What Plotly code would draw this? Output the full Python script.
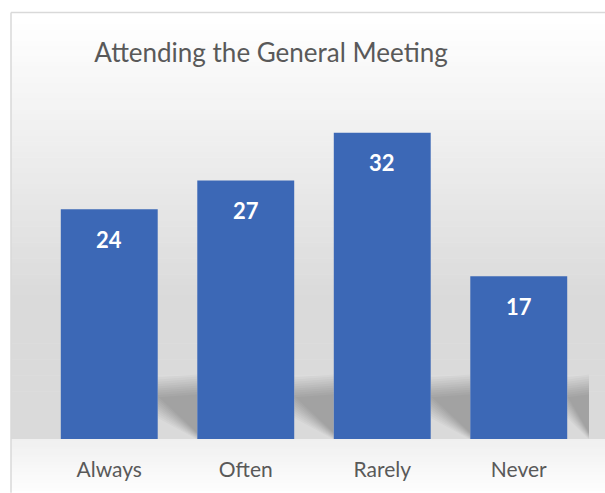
import plotly.graph_objects as go

categories = ["Always", "Often", "Rarely", "Never"]
values = [24, 27, 32, 17]
title_text = "Attending the General Meeting"

W, H = 605, 493
L, R, T, B = 41, 587, 104, 441
YMAX = 35
BAR_W = 0.71


def px(x):
    return (x - L) / (R - L)


def py(y):
    return (B - y) / (B - T)


def lerp_col(c1, c2, t):
    t = max(0.0, min(1.0, t))
    return "rgb(%d,%d,%d)" % tuple(round(a + (b - a) * t) for a, b in zip(c1, c2))


shapes = []
# wall gradient
top_y, bot_y = 13, B
n = 80
for k in range(n):
    y0 = top_y + (bot_y - top_y) * k / n
    y1 = top_y + (bot_y - top_y) * (k + 1) / n + 0.6
    t = ((y0 + y1) / 2 - 20) / (300 - 20)
    shapes.append(dict(type="rect", xref="paper", yref="paper", layer="below",
                       x0=px(11), x1=px(606), y0=py(y1), y1=py(y0),
                       fillcolor=lerp_col((255, 255, 255), (218, 218, 218), t),
                       line=dict(width=0)))
# floor gradient
n2 = 20
for k in range(n2):
    y0 = B + (H - B) * k / n2
    y1 = B + (H - B) * (k + 1) / n2 + 0.6
    t = k / (n2 - 1)
    shapes.append(dict(type="rect", xref="paper", yref="paper", layer="below",
                       x0=px(11), x1=px(606), y0=py(y1), y1=py(y0),
                       fillcolor=lerp_col((240, 240, 240), (253, 253, 253), t),
                       line=dict(width=0)))

# soft shadows in the gaps between bars
step = (R - L) / len(categories)
half = BAR_W * step / 2
nl = 10
for i in range(len(categories)):
    c = L + (i + 0.5) * step
    x0 = c + half
    x1 = (L + (i + 1.5) * step - half) if i < len(categories) - 1 else 589
    for k in range(nl):
        f = k / (nl - 1)  # 0 outer -> 1 inner
        tp = 376 + 20 * f
        dg = 12 - 22 * f
        pts = [(x0, tp + 3), (x1, tp), (x1, 441), (x1, 441 - 3 + dg * 0.3), (x0, 408 + dg)]
        path = "M " + " L ".join("%f,%f" % (px(a), py(b)) for a, b in pts) + " Z"
        shapes.append(dict(type="path", xref="paper", yref="paper", layer="below",
                           path=path, fillcolor="rgba(0,0,0,0.026)",
                           line=dict(width=0)))

# chart border
shapes.append(dict(type="line", xref="paper", yref="paper", layer="above",
                   x0=px(11), x1=px(11), y0=py(12), y1=py(495),
                   line=dict(color="#d9d9d9", width=1.5)))
shapes.append(dict(type="line", xref="paper", yref="paper", layer="above",
                   x0=px(11), x1=px(610), y0=py(12), y1=py(12),
                   line=dict(color="#d9d9d9", width=1.5)))

fig = go.Figure()
fig.add_trace(go.Bar(
    x=categories, y=values, width=BAR_W,
    marker=dict(color="#3c68b6", line=dict(width=0)),
    hoverinfo="skip",
))

annotations = []
for cat, v in zip(categories, values):
    annotations.append(dict(x=cat, y=v, xref="x", yref="y", text="<b>%d</b>" % v,
                            showarrow=False, yanchor="middle", yshift=-30,
                            font=dict(family="Lato, sans-serif", size=22, color="white")))

fig.update_layout(
    width=W, height=H,
    margin=dict(l=L, r=W - R, t=T, b=H - B),
    paper_bgcolor="white",
    plot_bgcolor="rgba(0,0,0,0)",
    showlegend=False,
    title=dict(text=title_text, x=271 / W, xref="container", xanchor="center",
               y=1 - 53 / H, yref="container", yanchor="middle",
               font=dict(family="Lato, sans-serif", size=26, color="#595959")),
    xaxis=dict(showline=False, showgrid=False, zeroline=False,
               ticks="outside", ticklen=12, tickcolor="rgba(0,0,0,0)",
               tickfont=dict(family="Lato, sans-serif", size=21, color="#595959")),
    yaxis=dict(range=[0, YMAX], visible=False),
    shapes=shapes,
    annotations=annotations,
    bargap=1 - BAR_W,
)

fig.write_html("out.html", config={"displayModeBar": False},
               post_script="document.body.style.margin='0';")
